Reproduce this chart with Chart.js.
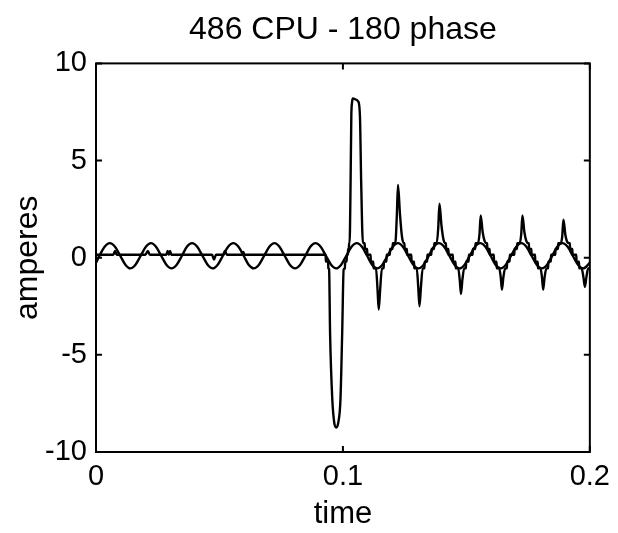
<!DOCTYPE html>
<html>
<head>
<meta charset="utf-8">
<title>486 CPU - 180 phase</title>
<script src="https://cdn.jsdelivr.net/npm/chart.js@4"></script>
<style>
  html, body { margin: 0; padding: 0; background: #fff; }
  #wrap { width: 618px; height: 533px; }
</style>
</head>
<body>
<div id="wrap"><canvas id="chart" width="618" height="533"></canvas></div>
<script>
const titleText = "486 CPU - 180 phase";
const xTitle = "time";
const yTitle = "amperes";

// tick values and labels
const xTickVals = [0, 0.1, 0.2];
const xTickText = ["0", "0.1", "0.2"];
const yTickVals = [-10, -5, 0, 5, 10];
const yTickText = ["-10", "-5", "0", "5", "10"];

// 60 Hz line current, read at eighth-period points
const sineTime = [0,
  0.0014, 0.0035, 0.0056, 0.0077, 0.0098, 0.0119, 0.0139, 0.0160,
  0.0181, 0.0202, 0.0223, 0.0243, 0.0264, 0.0285, 0.0306, 0.0327,
  0.0348, 0.0368, 0.0389, 0.0410, 0.0431, 0.0452, 0.0473, 0.0493,
  0.0514, 0.0535, 0.0556, 0.0577, 0.0598, 0.0618, 0.0639, 0.0660,
  0.0681, 0.0702, 0.0723, 0.0743, 0.0764, 0.0785, 0.0806, 0.0827,
  0.0848, 0.0868, 0.0889, 0.0910, 0.0931, 0.0952, 0.0973, 0.0993,
  0.1014, 0.1035, 0.1056, 0.1077, 0.1098, 0.1118, 0.1139, 0.1160,
  0.1181, 0.1202, 0.1223, 0.1243, 0.1264, 0.1285, 0.1306, 0.1327,
  0.1348, 0.1368, 0.1389, 0.1410, 0.1431, 0.1452, 0.1473, 0.1493,
  0.1514, 0.1535, 0.1556, 0.1577, 0.1598, 0.1618, 0.1639, 0.1660,
  0.1681, 0.1702, 0.1723, 0.1743, 0.1764, 0.1785, 0.1806, 0.1827,
  0.1848, 0.1868, 0.1889, 0.1910, 0.1931, 0.1952, 0.1973, 0.1993,
  0.2];
const sineAmp = [-0.26,
  0.10, 0.56, 0.75, 0.56, 0.10, -0.36, -0.55, -0.36,
  0.10, 0.56, 0.75, 0.56, 0.10, -0.36, -0.55, -0.36,
  0.10, 0.56, 0.75, 0.56, 0.10, -0.36, -0.55, -0.36,
  0.10, 0.56, 0.75, 0.56, 0.10, -0.36, -0.55, -0.36,
  0.10, 0.56, 0.75, 0.56, 0.10, -0.36, -0.55, -0.36,
  0.10, 0.56, 0.75, 0.56, 0.10, -0.36, -0.55, -0.36,
  0.10, 0.56, 0.75, 0.56, 0.10, -0.36, -0.55, -0.36,
  0.10, 0.56, 0.75, 0.56, 0.10, -0.36, -0.55, -0.36,
  0.10, 0.56, 0.75, 0.56, 0.10, -0.36, -0.55, -0.36,
  0.10, 0.56, 0.75, 0.56, 0.10, -0.36, -0.55, -0.36,
  0.10, 0.56, 0.75, 0.56, 0.10, -0.36, -0.55, -0.36,
  0.10, 0.56, 0.75, 0.56, 0.10, -0.36, -0.55, -0.36,
  -0.25];

// CPU current: flat until switch-on, then stepped with spikes
const cpuTime = [
  0, 0.0070, 0.0077, 0.0084, 0.0200, 0.0210, 0.0218, 0.0285, 0.0290, 0.0295, 0.0300,
  0.0305, 0.0470, 0.0478, 0.0486, 0.0515, 0.0522, 0.0530, 0.0590, 0.0596, 0.0602, 0.0930,
  0.0931, 0.0940, 0.0941, 0.0944, 0.0948, 0.0957, 0.0965, 0.0973, 0.0981, 0.0990, 0.0997,
  0.1003, 0.1008, 0.1009, 0.1015, 0.1016, 0.1020, 0.1021, 0.1024, 0.1025, 0.1027, 0.1031,
  0.1034, 0.1037, 0.1040, 0.1050, 0.1062, 0.1069, 0.1074, 0.1081, 0.1088, 0.1089, 0.1098, 0.1099,
  0.1112, 0.1113, 0.1123, 0.1124, 0.1134, 0.1140, 0.1145, 0.1151, 0.1158, 0.1165, 0.1166, 0.1176, 0.1177,
  0.1190, 0.1191, 0.1201, 0.1202, 0.1212, 0.1218, 0.1223, 0.1231, 0.1239, 0.1246, 0.1249, 0.1250, 0.1259, 0.1260,
  0.1277, 0.1278, 0.1288, 0.1289, 0.1299, 0.1305, 0.1310, 0.1316, 0.1323, 0.1330, 0.1331, 0.1341, 0.1342,
  0.1358, 0.1359, 0.1369, 0.1370, 0.1380, 0.1386, 0.1391, 0.1399, 0.1407, 0.1414, 0.1417, 0.1418, 0.1427, 0.1428,
  0.1445, 0.1446, 0.1456, 0.1457, 0.1467, 0.1473, 0.1478, 0.1484, 0.1491, 0.1498, 0.1499, 0.1509, 0.1510,
  0.1525, 0.1526, 0.1536, 0.1537, 0.1547, 0.1553, 0.1558, 0.1566, 0.1574, 0.1581, 0.1584, 0.1585, 0.1594, 0.1595,
  0.1611, 0.1612, 0.1622, 0.1623, 0.1633, 0.1639, 0.1644, 0.1650, 0.1657, 0.1664, 0.1665, 0.1675, 0.1676,
  0.1694, 0.1695, 0.1705, 0.1706, 0.1716, 0.1722, 0.1727, 0.1735, 0.1743, 0.1750, 0.1753, 0.1754, 0.1763, 0.1764,
  0.1778, 0.1779, 0.1789, 0.1790, 0.1800, 0.1806, 0.1811, 0.1817, 0.1824, 0.1831, 0.1832, 0.1842, 0.1843,
  0.1860, 0.1861, 0.1871, 0.1872, 0.1882, 0.1888, 0.1893, 0.1901, 0.1909, 0.1916, 0.1919, 0.1920, 0.1929, 0.1930,
  0.1945, 0.1946, 0.1956, 0.1957, 0.1967, 0.1974, 0.1980, 0.1986, 0.1993, 0.2000];
const cpuAmp = [
  0.15, 0.15, 0.35, 0.15, 0.15, 0.35, 0.15, 0.15, 0.35, 0.15, 0.35,
  0.15, 0.15, -0.1, 0.15, 0.15, 0.35, 0.15, 0.15, 0.3, 0.15, 0.15,
  -0.2, -0.2, -0.55, -0.6, -3.9, -7.3, -8.5, -8.74, -8.5, -7.3, -3.9,
  -0.6, -0.55, -0.2, -0.2, 0.15, 0.15, 0.45, 0.45, 0.75, 0.75, 3.84,
  7.27, 8.0, 8.2, 8.15, 8.04, 7.27, 3.84, 0.75, 0.75, 0.45, 0.45, 0.15,
  0.15, -0.2, -0.2, -0.55, -0.55, -1.6, -2.67, -1.6, -0.55, -0.55, -0.2, -0.2, 0.15,
  0.15, 0.45, 0.45, 0.75, 0.75, 2.06, 3.75, 2.25, 1.1, 0.75, 0.75, 0.45, 0.45, 0.15,
  0.15, -0.2, -0.2, -0.55, -0.55, -1.5, -2.5, -1.5, -0.55, -0.55, -0.2, -0.2, 0.15,
  0.15, 0.45, 0.45, 0.75, 0.75, 1.53, 2.78, 1.67, 0.95, 0.75, 0.75, 0.45, 0.45, 0.15,
  0.15, -0.2, -0.2, -0.55, -0.55, -1.12, -1.87, -1.12, -0.55, -0.55, -0.2, -0.2, 0.15,
  0.15, 0.45, 0.45, 0.75, 0.75, 1.2, 2.18, 1.31, 0.85, 0.75, 0.75, 0.45, 0.45, 0.15,
  0.15, -0.2, -0.2, -0.55, -0.55, -0.99, -1.65, -0.99, -0.55, -0.55, -0.2, -0.2, 0.15,
  0.15, 0.45, 0.45, 0.75, 0.75, 1.2, 2.18, 1.31, 0.85, 0.75, 0.75, 0.45, 0.45, 0.15,
  0.15, -0.2, -0.2, -0.55, -0.55, -0.99, -1.65, -0.99, -0.55, -0.55, -0.2, -0.2, 0.15,
  0.15, 0.45, 0.45, 0.75, 0.75, 1.07, 1.95, 1.17, 0.8, 0.75, 0.75, 0.45, 0.45, 0.15,
  0.15, -0.2, -0.2, -0.55, -0.55, -1.0, -1.5, -1.0, -0.55, -0.55];

const FONT = "'Liberation Sans', Arial, Helvetica, sans-serif";
Chart.defaults.font.family = FONT;
Chart.defaults.color = "#000";

// matlab style box with inward tick marks
const boxTicks = {
  id: "boxTicks",
  afterDatasetsDraw(chart) {
    const { ctx, chartArea: a, scales } = chart;
    const len = 6;
    ctx.save();
    ctx.strokeStyle = "#000";
    ctx.lineWidth = 2;
    ctx.strokeRect(a.left, a.top, a.right - a.left, a.bottom - a.top);
    ctx.beginPath();
    scales.x.ticks.forEach((t) => {
      const px = scales.x.getPixelForValue(t.value);
      ctx.moveTo(px, a.bottom); ctx.lineTo(px, a.bottom - len);
      ctx.moveTo(px, a.top); ctx.lineTo(px, a.top + len);
    });
    scales.y.ticks.forEach((t) => {
      const py = scales.y.getPixelForValue(t.value);
      ctx.moveTo(a.left, py); ctx.lineTo(a.left + len, py);
      ctx.moveTo(a.right, py); ctx.lineTo(a.right - len, py);
    });
    ctx.stroke();
    ctx.restore();
  }
};

const toPoints = (xs, ys) => xs.map((x, i) => ({ x: x, y: ys[i] }));

new Chart(document.getElementById("chart"), {
  type: "line",
  data: {
    datasets: [
      {
        label: "line",
        data: toPoints(sineTime, sineAmp),
        borderColor: "#000",
        borderWidth: 2.4,
        pointRadius: 0,
        tension: 0.4,
        cubicInterpolationMode: "monotone"
      },
      {
        label: "cpu",
        data: toPoints(cpuTime, cpuAmp),
        borderColor: "#000",
        borderWidth: 2.4,
        pointRadius: 0,
        tension: 0.4,
        cubicInterpolationMode: "monotone"
      }
    ]
  },
  options: {
    responsive: false,
    animation: false,
    devicePixelRatio: 1,
    layout: { padding: { left: 0, right: 26, top: 0, bottom: 0 }, autoPadding: false },
    plugins: {
      legend: { display: false },
      tooltip: { enabled: false },
      title: {
        display: true,
        text: titleText,
        fullSize: false,
        color: "#000",
        font: { size: 32, weight: "normal" },
        padding: { top: 11, bottom: 14 }
      }
    },
    scales: {
      x: {
        type: "linear",
        min: 0,
        max: 0.2,
        grid: { display: false, drawTicks: false },
        border: { display: false },
        afterBuildTicks: (s) => { s.ticks = xTickVals.map((v) => ({ value: v })); },
        afterFit: (s) => { s.height = 81; },
        ticks: {
          color: "#000",
          font: { size: 29 },
          padding: 8,
          maxRotation: 0,
          autoSkip: false,
          callback: (v, i) => xTickText[i]
        },
        title: {
          display: true,
          text: xTitle,
          color: "#000",
          font: { size: 31 },
          padding: { top: 0, bottom: 0 }
        }
      },
      y: {
        type: "linear",
        min: -10,
        max: 10,
        grid: { display: false, drawTicks: false },
        border: { display: false },
        afterBuildTicks: (s) => { s.ticks = yTickVals.map((v) => ({ value: v })); },
        afterFit: (s) => { s.width = 96; },
        ticks: {
          color: "#000",
          font: { size: 29 },
          padding: 9,
          autoSkip: false,
          callback: (v, i) => yTickText[i]
        },
        title: {
          display: true,
          text: yTitle,
          color: "#000",
          font: { size: 32 },
          padding: { top: 9, bottom: 0 }
        }
      }
    }
  },
  plugins: [boxTicks]
});
</script>
</body>
</html>
